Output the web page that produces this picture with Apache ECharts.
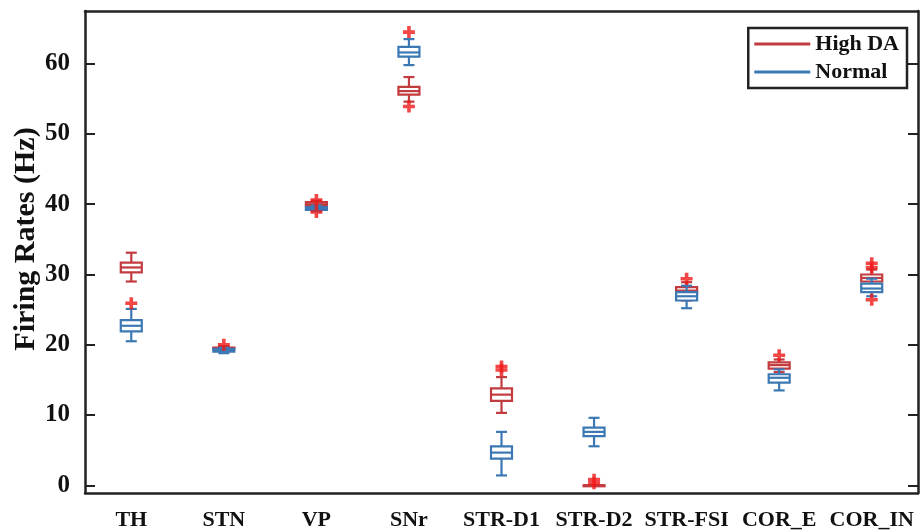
<!DOCTYPE html>
<html>
<head>
<meta charset="utf-8">
<script src="https://cdn.jsdelivr.net/npm/echarts@6/dist/echarts.min.js"></script>
<style>
  html, body { margin: 0; padding: 0; background: #fff; }
  #main { width: 923px; height: 532px; }
</style>
</head>
<body>
<div id="main"></div>
<script>
// firing rates per nucleus, box = [min, q1, median, q3, max]
var categories = ['TH', 'STN', 'VP', 'SNr', 'STR-D1', 'STR-D2', 'STR-FSI', 'COR_E', 'COR_IN'];
var highDA = [
  [29.0, 30.3, 31.0, 31.7, 33.1],
  [19.3, 19.4, 19.5, 19.6, 19.8],
  [39.4, 39.8, 40.0, 40.3, 40.5],
  [54.6, 55.6, 56.1, 56.7, 58.1],
  [10.3, 12.0, 12.9, 13.8, 15.4],
  [0, 0, 0, 0, 0],
  [26.3, 27.3, 27.7, 28.2, 28.9],
  [16.1, 16.6, 17.1, 17.5, 17.9],
  [28.3, 29.0, 29.5, 30.0, 30.7]
];
var normal = [
  [20.5, 21.9, 22.7, 23.5, 25.1],
  [18.8, 19.0, 19.2, 19.4, 19.6],
  [39.0, 39.2, 39.4, 39.6, 39.8],
  [59.8, 61.0, 61.6, 62.4, 63.5],
  [1.4, 3.8, 4.65, 5.55, 7.6],
  [5.55, 7.0, 7.6, 8.2, 9.6],
  [25.2, 26.3, 26.9, 27.5, 28.4],
  [13.5, 14.6, 15.3, 15.8, 16.5],
  [26.9, 27.5, 28.0, 28.7, 29.4]
];
// outliers [category index, value]
var highOut = [[1, 20.0], [2, 40.6], [2, 38.9], [3, 53.9], [4, 16.9], [4, 16.4], [5, 0.8], [5, 0.3],
  [6, 29.4], [7, 18.5], [8, 31.6], [8, 31.0], [8, 26.4]];
var normalOut = [[0, 25.9], [3, 64.5]];
var yTicks = [0, 10, 20, 30, 40, 50, 60];

var RED = '#c23b3f';
var BLUE = '#3b78b4';
var serif = '"Liberation Serif", "Times New Roman", serif';

function boxData(arr) {
  return arr.map(function (b, i) { return [i].concat(b); });
}

function renderBox(params, api) {
  var x = api.value(0);
  var lo = api.coord([x, api.value(1)]);
  var q1 = api.coord([x, api.value(2)]);
  var md = api.coord([x, api.value(3)]);
  var q3 = api.coord([x, api.value(4)]);
  var hi = api.coord([x, api.value(5)]);
  var cx = lo[0];
  var bw = 21, cw = 11;
  var col = api.visual('color');
  var ls = { stroke: col, lineWidth: 2.2, fill: null };
  return {
    type: 'group',
    children: [
      { type: 'line', shape: { x1: cx, y1: hi[1], x2: cx, y2: q3[1] }, style: ls },
      { type: 'line', shape: { x1: cx, y1: q1[1], x2: cx, y2: lo[1] }, style: ls },
      { type: 'line', shape: { x1: cx - cw / 2, y1: hi[1], x2: cx + cw / 2, y2: hi[1] }, style: ls },
      { type: 'line', shape: { x1: cx - cw / 2, y1: lo[1], x2: cx + cw / 2, y2: lo[1] }, style: ls },
      { type: 'rect', shape: { x: cx - bw / 2, y: q3[1], width: bw, height: Math.max(q1[1] - q3[1], 1) },
        style: { stroke: col, lineWidth: 2.2, fill: '#fff' } },
      { type: 'line', shape: { x1: cx - bw / 2, y1: md[1], x2: cx + bw / 2, y2: md[1] }, style: ls }
    ]
  };
}

var plus = 'path://M3.5,0H6.5V3.5H10V6.5H6.5V10H3.5V6.5H0V3.5H3.5Z';

var myChart = echarts.init(document.getElementById('main'));
var option = {
  animation: false,
  backgroundColor: '#fff',
  grid: { left: 85, right: 5, top: 11, bottom: 39, outerBoundsMode: 'none' },
  legend: {
    data: [
      { name: 'High DA', icon: 'rect', itemStyle: { color: RED } },
      { name: 'Normal', icon: 'rect', itemStyle: { color: BLUE } }
    ],
    orient: 'vertical',
    right: 16,
    top: 28,
    itemWidth: 56,
    itemHeight: 3,
    itemGap: 6,
    padding: [5, 8, 5, 6],
    borderColor: '#222',
    borderWidth: 2.5,
    backgroundColor: '#fff',
    textStyle: { fontFamily: serif, fontWeight: 'bold', fontSize: 22, color: '#111' }
  },
  xAxis: [
    {
      type: 'category',
      data: categories,
      position: 'bottom',
      axisLine: { onZero: false, lineStyle: { color: '#222', width: 2.5 } },
      axisTick: { inside: true, alignWithLabel: true, length: 8, lineStyle: { color: '#222', width: 2 } },
      axisLabel: { interval: 0, margin: 16, fontFamily: serif, fontWeight: 'bold', fontSize: 22, color: '#111' },
      splitLine: { show: false }
    },
    {
      type: 'category',
      data: categories,
      position: 'top',
      axisLine: { onZero: false, lineStyle: { color: '#222', width: 2.5 } },
      axisTick: { inside: true, alignWithLabel: true, length: 8, lineStyle: { color: '#222', width: 2 } },
      axisLabel: { show: false },
      splitLine: { show: false }
    }
  ],
  yAxis: [
    {
      type: 'value',
      min: -1.1,
      max: 67.5,
      position: 'left',
      name: 'Firing Rates (Hz)',
      nameLocation: 'middle',
      nameGap: 44,
      nameMoveOverlap: false,
      nameTextStyle: { fontFamily: serif, fontWeight: 'bold', fontSize: 30, color: '#111', padding: [0, 0, 0, 26] },
      axisLine: { show: true, onZero: false, lineStyle: { color: '#222', width: 2.5 } },
      axisTick: { show: true, inside: true, length: 10, customValues: yTicks, lineStyle: { color: '#222', width: 2 } },
      axisLabel: { customValues: yTicks, margin: 15, fontFamily: serif, fontWeight: 'bold', fontSize: 25, color: '#111' },
      splitLine: { show: false }
    },
    {
      type: 'value',
      min: -1.1,
      max: 67.5,
      position: 'right',
      axisLine: { show: true, onZero: false, lineStyle: { color: '#222', width: 2.5 } },
      axisTick: { show: true, inside: true, length: 10, customValues: yTicks, lineStyle: { color: '#222', width: 2 } },
      axisLabel: { show: false },
      splitLine: { show: false }
    }
  ],
  series: [
    {
      name: 'High DA',
      type: 'custom',
      renderItem: renderBox,
      itemStyle: { color: RED },
      encode: { x: 0, y: [1, 2, 3, 4, 5] },
      data: boxData(highDA),
      z: 2
    },
    {
      name: 'Normal',
      type: 'custom',
      renderItem: renderBox,
      itemStyle: { color: BLUE },
      encode: { x: 0, y: [1, 2, 3, 4, 5] },
      data: boxData(normal),
      z: 3
    },
    {
      name: 'High DA outliers',
      type: 'scatter',
      symbol: plus,
      symbolSize: 12,
      itemStyle: { color: '#f01818' },
      data: highOut,
      z: 5
    },
    {
      name: 'Normal outliers',
      type: 'scatter',
      symbol: plus,
      symbolSize: 12,
      itemStyle: { color: '#f01818' },
      data: normalOut,
      z: 5
    }
  ]
};
myChart.setOption(option);
</script>
</body>
</html>
